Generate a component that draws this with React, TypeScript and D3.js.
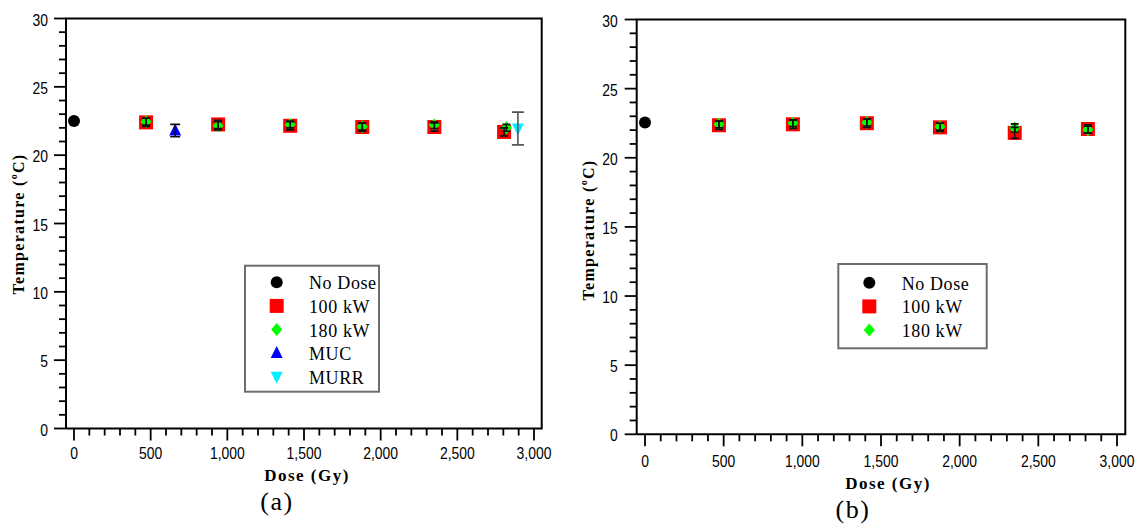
import React from "react";
import * as d3 from "d3";

// ---------- data ----------
const xTickValues = [0, 500, 1000, 1500, 2000, 2500, 3000];
const yTickValues = [0, 5, 10, 15, 20, 25, 30];

// Panel (a)
const noDoseA = [{ dose: 0, temp: 22.5 }];
const doseA100 = [470, 940, 1410, 1880, 2350, 2805];
const tempA100 = [22.4, 22.25, 22.15, 22.06, 22.06, 21.7];
const errA100 = [0.3, 0.3, 0.3, 0.3, 0.3, 0.3];
const doseA180 = [470, 940, 1410, 1880, 2350, 2820];
const tempA180 = [22.45, 22.15, 22.25, 22.08, 22.2, 22.0];
const errA180 = [0.25, 0.3, 0.25, 0.25, 0.25, 0.25];
const doseMUC = [660];
const tempMUC = [21.8];
const errMUC = [0.45];
const doseMURR = [2895];
const tempMURR = [21.95];
const errMURR = [1.2];

// Panel (b)
const noDoseB = [{ dose: 0, temp: 22.55 }];
const doseB100 = [470, 940, 1410, 1875, 2350, 2815];
const tempB100 = [22.35, 22.42, 22.5, 22.2, 21.8, 22.08];
const errB100 = [0.3, 0.3, 0.3, 0.3, 0.4, 0.3];
const doseB180 = [470, 940, 1410, 1875, 2350, 2815];
const tempB180 = [22.42, 22.5, 22.55, 22.25, 22.15, 22.03];
const errB180 = [0.25, 0.25, 0.25, 0.25, 0.3, 0.25];

const legendA = ["No Dose", "100 kW", "180 kW", "MUC", "MURR"];
const legendB = ["No Dose", "100 kW", "180 kW"];

// ---------- styles ----------
const COLORS: Record<string, string> = {
  "No Dose": "#000000",
  "100 kW": "#ff0000",
  "180 kW": "#00ff00",
  MUC: "#0000ff",
  MURR: "#00f0ff",
};

function symbolPath(name: string): string {
  if (name === "No Dose") return d3.symbol(d3.symbolCircle, Math.PI * 36)()!;
  if (name === "100 kW") return d3.symbol(d3.symbolSquare, 14 * 14)()!;
  const p = d3.path();
  if (name === "180 kW") {
    p.moveTo(0, -6.5);
    p.lineTo(5.5, 0);
    p.lineTo(0, 6.5);
    p.lineTo(-5.5, 0);
    p.closePath();
  } else if (name === "MUC") {
    p.moveTo(0, -7);
    p.lineTo(6, 5);
    p.lineTo(-6, 5);
    p.closePath();
  } else {
    p.moveTo(0, 7);
    p.lineTo(6, -5);
    p.lineTo(-6, -5);
    p.closePath();
  }
  return p.toString();
}

const numFont = "'Liberation Sans', Arial, sans-serif";
const serif = "'Liberation Serif', 'Times New Roman', serif";

type Layout = {
  left: number;
  top: number;
  right: number;
  bottom: number;
  x0: number;
  x1: number;
  yLabelX: number;
  yLabelY: number;
  doseX: number;
  doseY: number;
  tagX: number;
  tagY: number;
  tickDy: number;
  yTickDx: number;
  tag: string;
  legend: { x0: number; y0: number; x1: number; y1: number; symX: number; textX: number; rowY: number; rowH: number };
};

type Series = { name: string; dose: number[]; temp: number[]; err?: number[]; errColor?: string; cap?: number };

function Panel({ L, series, legend }: { L: Layout; series: Series[]; legend: string[] }) {
  const x = d3.scaleLinear().domain([0, 3000]).range([L.x0, L.x1]);
  const y = d3.scaleLinear().domain([0, 30]).range([L.bottom, L.top]);
  const xMinor = d3.range(0, 3001, 100).filter((v) => v % 500 !== 0);
  const yMinor = d3.range(0, 31, 1).filter((v) => v % 5 !== 0);
  const fmt = d3.format(",");
  const lw = 1.8;
  return (
    <g>
      {/* frame */}
      <path
        d={`M${L.left},${L.bottom}V${L.top}H${L.right}V${L.bottom}H${L.left}`}
        fill="none"
        stroke="#000"
        strokeWidth={2}
      />
      {/* y ticks */}
      {yTickValues.map((v) => (
        <g key={"yt" + v}>
          <line x1={L.left - 12} x2={L.left} y1={y(v)} y2={y(v)} stroke="#000" strokeWidth={lw} />
          <text
            transform={`translate(${L.left - L.yTickDx},${y(v) + 1}) scale(0.82,1)`}
            textAnchor="end"
            dominantBaseline="central"
            fontFamily={numFont}
            fontSize={17}
            fill="#000"
          >
            {v}
          </text>
        </g>
      ))}
      {yMinor.map((v) => (
        <line key={"ym" + v} x1={L.left - 7} x2={L.left} y1={y(v)} y2={y(v)} stroke="#000" strokeWidth={lw} />
      ))}
      {/* x ticks */}
      {xTickValues.map((v) => (
        <g key={"xt" + v}>
          <line x1={x(v)} x2={x(v)} y1={L.bottom} y2={L.bottom + 12} stroke="#000" strokeWidth={lw} />
          <text
            transform={`translate(${x(v)},${L.bottom + L.tickDy}) scale(0.82,1)`}
            textAnchor="middle"
            dominantBaseline="central"
            fontFamily={numFont}
            fontSize={17}
            fill="#000"
          >
            {fmt(v)}
          </text>
        </g>
      ))}
      {xMinor.map((v) => (
        <line key={"xm" + v} x1={x(v)} x2={x(v)} y1={L.bottom} y2={L.bottom + 7} stroke="#000" strokeWidth={lw} />
      ))}
      {/* axis titles */}
      <text
        transform={`translate(${L.yLabelX},${L.yLabelY}) rotate(-90)`}
        textAnchor="middle"
        dominantBaseline="central"
        fontFamily={serif}
        fontWeight="bold"
        fontSize={16}
        letterSpacing={1.3}
        fill="#000"
      >
        Temperature (
        <tspan fontSize={10} dy={-5}>o</tspan>
        <tspan dy={5}>C)</tspan>
      </text>
      <text
        x={L.doseX}
        y={L.doseY}
        textAnchor="middle"
        dominantBaseline="central"
        fontFamily={serif}
        fontWeight="bold"
        fontSize={17}
        letterSpacing={1.5}
        fill="#000"
      >
        Dose (Gy)
      </text>
      <text
        x={L.tagX}
        y={L.tagY}
        textAnchor="middle"
        dominantBaseline="central"
        fontFamily={serif}
        fontSize={26}
        letterSpacing={1.5}
        fill="#000"
      >
        {L.tag}
      </text>
      {/* markers */}
      {series.map((s) =>
        s.dose.map((d, i) => (
          <path
            key={s.name + i}
            d={symbolPath(s.name)}
            transform={`translate(${x(d)},${y(s.temp[i])})`}
            fill={COLORS[s.name]}
          />
        ))
      )}
      {/* error bars */}
      {series.map((s) =>
        s.err
          ? s.dose.map((d, i) => {
              const cx = x(d);
              const yt = y(s.temp[i] + s.err![i]);
              const yb = y(s.temp[i] - s.err![i]);
              const c = s.cap ?? 4;
              return (
                <path
                  key={"e" + s.name + i}
                  d={`M${cx - c},${yt}H${cx + c}M${cx},${yt}V${yb}M${cx - c},${yb}H${cx + c}`}
                  stroke={s.errColor ?? "#111"}
                  strokeWidth={1.6}
                  fill="none"
                />
              );
            })
          : null
      )}
      {/* legend */}
      <rect
        x={L.legend.x0}
        y={L.legend.y0}
        width={L.legend.x1 - L.legend.x0}
        height={L.legend.y1 - L.legend.y0}
        fill="#fff"
        stroke="#6e6e6e"
        strokeWidth={2}
      />
      {legend.map((name, i) => {
        const ry = L.legend.rowY + i * L.legend.rowH;
        return (
          <g key={"lg" + name}>
            <path d={symbolPath(name)} transform={`translate(${L.legend.symX},${ry})`} fill={COLORS[name]} />
            <text
              x={L.legend.textX}
              y={ry + 1}
              dominantBaseline="central"
              fontFamily={serif}
              fontSize={18}
              letterSpacing={0.6}
              fill="#000"
            >
              {name}
            </text>
          </g>
        );
      })}
    </g>
  );
}

const layoutA: Layout = {
  left: 66,
  top: 18.5,
  right: 541.7,
  bottom: 428.5,
  x0: 74,
  x1: 534,
  yLabelX: 18,
  yLabelY: 224,
  doseX: 307,
  doseY: 475,
  tagX: 277,
  tagY: 501,
  tickDy: 24.5,
  yTickDx: 18,
  tag: "(a)",
  legend: { x0: 245, y0: 265.7, x1: 379, y1: 391.7, symX: 276.7, textX: 309, rowY: 282.3, rowH: 23.6 },
};

const layoutB: Layout = {
  left: 636.7,
  top: 19.5,
  right: 1125.3,
  bottom: 434.3,
  x0: 645,
  x1: 1117,
  yLabelX: 588,
  yLabelY: 230,
  doseX: 888,
  doseY: 483,
  tagX: 853,
  tagY: 509,
  tickDy: 26.5,
  yTickDx: 19,
  tag: "(b)",
  legend: { x0: 838.3, y0: 264, x1: 986.7, y1: 348.3, symX: 869.3, textX: 901.7, rowY: 282.7, rowH: 23.7 },
};

export default function App() {
  const seriesA: Series[] = [
    { name: "No Dose", dose: noDoseA.map((d) => d.dose), temp: noDoseA.map((d) => d.temp) },
    { name: "100 kW", dose: doseA100, temp: tempA100, err: errA100 },
    { name: "180 kW", dose: doseA180, temp: tempA180, err: errA180 },
    { name: "MUC", dose: doseMUC, temp: tempMUC, err: errMUC, cap: 5 },
    { name: "MURR", dose: doseMURR, temp: tempMURR, err: errMURR, errColor: "#555", cap: 6 },
  ];
  const seriesB: Series[] = [
    { name: "No Dose", dose: noDoseB.map((d) => d.dose), temp: noDoseB.map((d) => d.temp) },
    { name: "100 kW", dose: doseB100, temp: tempB100, err: errB100 },
    { name: "180 kW", dose: doseB180, temp: tempB180, err: errB180 },
  ];
  return (
    <svg
      width={1137}
      height={525}
      viewBox="0 0 1137 525"
      style={{ position: "absolute", left: 0, top: 0, background: "#fff", display: "block" }}
    >
      <rect x={0} y={0} width={1137} height={525} fill="#fff" />
      <Panel L={layoutA} series={seriesA} legend={legendA} />
      <Panel L={layoutB} series={seriesB} legend={legendB} />
    </svg>
  );
}
